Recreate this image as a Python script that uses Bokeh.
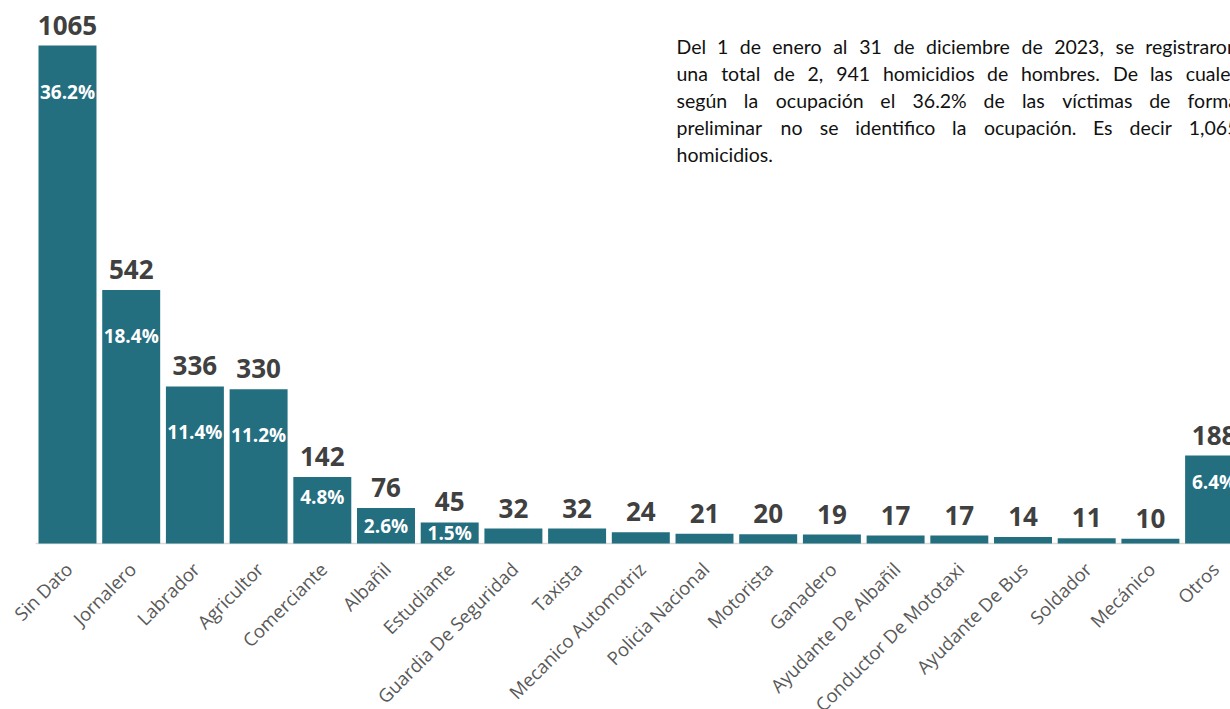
import math
from bokeh.plotting import figure
from bokeh.models import ColumnDataSource, Label, Range1d
from bokeh.core.properties import value
from bokeh.embed import file_html
from bokeh.resources import INLINE

# ---------------- data ----------------
categories = ["Sin Dato", "Jornalero", "Labrador", "Agricultor", "Comerciante",
              "Albañil", "Estudiante", "Guardia De Seguridad", "Taxista",
              "Mecanico Automotriz", "Policia Nacional", "Motorista", "Ganadero",
              "Ayudante De Albañil", "Conductor De Mototaxi", "Ayudante De Bus",
              "Soldador", "Mecánico", "Otros"]
counts = [1065, 542, 336, 330, 142, 76, 45, 32, 32, 24, 21, 20, 19, 17, 17, 14, 11, 10, 188]
pct_labels = ["36.2%", "18.4%", "11.4%", "11.2%", "4.8%", "2.6%", "1.5%",
              "", "", "", "", "", "", "", "", "", "", "", "6.4%"]
note_lines = [
    "Del 1 de enero al 31 de diciembre de 2023, se registraron",
    "una total de 2, 941 homicidios de hombres. De las cuales",
    "según la ocupación el 36.2% de las víctimas de forma",
    "preliminar no se identifico la ocupación. Es decir 1,065",
    "homicidios.",
]

# ---------------- style ----------------
BAR = "#236E7F"
VAL_COLOR = "#404040"
CAT_COLOR = "#595959"
AXIS_COLOR = "#D9D9D9"
FONT = "Open Sans"
NOTE_FONT = "Lato"

W, H = 1230, 709
PITCH = 63.7          # px per category slot
C0 = 67.0             # screen x of first slot centre
BASE = 543.0          # screen y of baseline
PX_PER_UNIT = 498.0 / 1065.0
X0 = -C0 / PITCH
X1 = (W - C0) / PITCH
Y1 = BASE / PX_PER_UNIT
Y0 = -(H - BASE) / PX_PER_UNIT

VAL_GAP_PX = 11       # value label bottom above bar top
CAT_DX_PX, CAT_DY_PX = 1, 22

xs = list(range(len(categories)))

def pct_offset_px(v):
    h = v * PX_PER_UNIT
    if h < 50:
        return h / 2.0
    return min(46.0, 0.3 * h)

src = ColumnDataSource(dict(
    x=xs, cat=categories, count=counts,
    count_str=[str(c) for c in counts],
    val_y=[c + VAL_GAP_PX / PX_PER_UNIT for c in counts],
    pct=pct_labels,
    pct_y=[c - pct_offset_px(c) / PX_PER_UNIT for c in counts],
    cat_x=[i + CAT_DX_PX / PITCH for i in xs],
    cat_y=[-CAT_DY_PX / PX_PER_UNIT] * len(xs),
))

p = figure(width=W, height=H, x_range=Range1d(X0, X1), y_range=Range1d(Y0, Y1),
           output_backend="svg", toolbar_location=None,
           min_border_left=0, min_border_right=0, min_border_top=0,
           min_border_bottom=0)
p.axis.visible = False
p.grid.visible = False
p.outline_line_color = None
p.background_fill_color = "white"
p.border_fill_color = "white"

# baseline (category axis line) spanning the category slots
p.segment(x0=[-0.5], y0=[0], x1=[len(categories) - 0.5], y1=[0],
          line_color=AXIS_COLOR, line_width=1.5)

p.vbar(x="x", top="count", bottom=0, width=0.91, source=src,
       fill_color=BAR, line_color=None)

p.text(x="x", y="val_y", text="count_str", source=src,
       text_align="center", text_baseline="bottom",
       text_font=value(FONT), text_font_style="bold",
       text_font_size="26px", text_color=VAL_COLOR)

p.text(x="x", y="pct_y", text="pct", source=src,
       text_align="center", text_baseline="middle",
       text_font=value(FONT), text_font_style="bold",
       text_font_size="19px", text_color="white")

p.text(x="cat_x", y="cat_y", text="cat", source=src,
       angle=math.radians(45),
       text_align="right", text_baseline="middle",
       text_font=value(FONT), text_font_size="18.5px", text_color=CAT_COLOR)

# ---------- justified note text ----------
CW = {' ': .26, '.': .23, ',': .23, '%': .78, 'D': .72, 'E': .57}
CW.update({c: .58 for c in "0123456789"})
CW.update(dict(a=.51, b=.56, c=.46, d=.56, e=.52, f=.33, g=.50, h=.56, i=.24, j=.24,
               k=.50, l=.24, m=.84, n=.56, o=.56, p=.56, q=.56, r=.37, s=.42, t=.36,
               u=.56, v=.50, w=.77, x=.49, y=.50, z=.45))
CW.update({'ú': .56, 'ó': .56, 'í': .24})
NOTE_SIZE = 19.5
def word_w(wd):
    return sum(CW.get(ch, .55) for ch in wd) * NOTE_SIZE

NOTE_LEFT, NOTE_RIGHT = 676, 1238
NOTE_TOP, NOTE_STEP = 46, 27
def sx_to_data(px):
    return X0 + px / PITCH
def sy_to_data(py):
    return (BASE - py) / PX_PER_UNIT

for li, line in enumerate(note_lines):
    words = line.split(" ")
    cy = NOTE_TOP + li * NOTE_STEP
    if li == len(note_lines) - 1:
        p.add_layout(Label(x=sx_to_data(NOTE_LEFT), y=sy_to_data(cy), text=line,
                           text_align="left", text_baseline="middle",
                           text_font=NOTE_FONT, text_font_size=f"{NOTE_SIZE}px",
                           text_color="#111111"))
        continue
    widths = [word_w(w) for w in words]
    gap = (NOTE_RIGHT - NOTE_LEFT - sum(widths)) / (len(words) - 1)
    cx = NOTE_LEFT
    for w, wd in zip(words, widths):
        p.add_layout(Label(x=sx_to_data(cx), y=sy_to_data(cy), text=w,
                           text_align="left", text_baseline="middle",
                           text_font=NOTE_FONT, text_font_size=f"{NOTE_SIZE}px",
                           text_color="#111111"))
        cx += wd + gap

open("out.html", "w").write(file_html(p, INLINE))
